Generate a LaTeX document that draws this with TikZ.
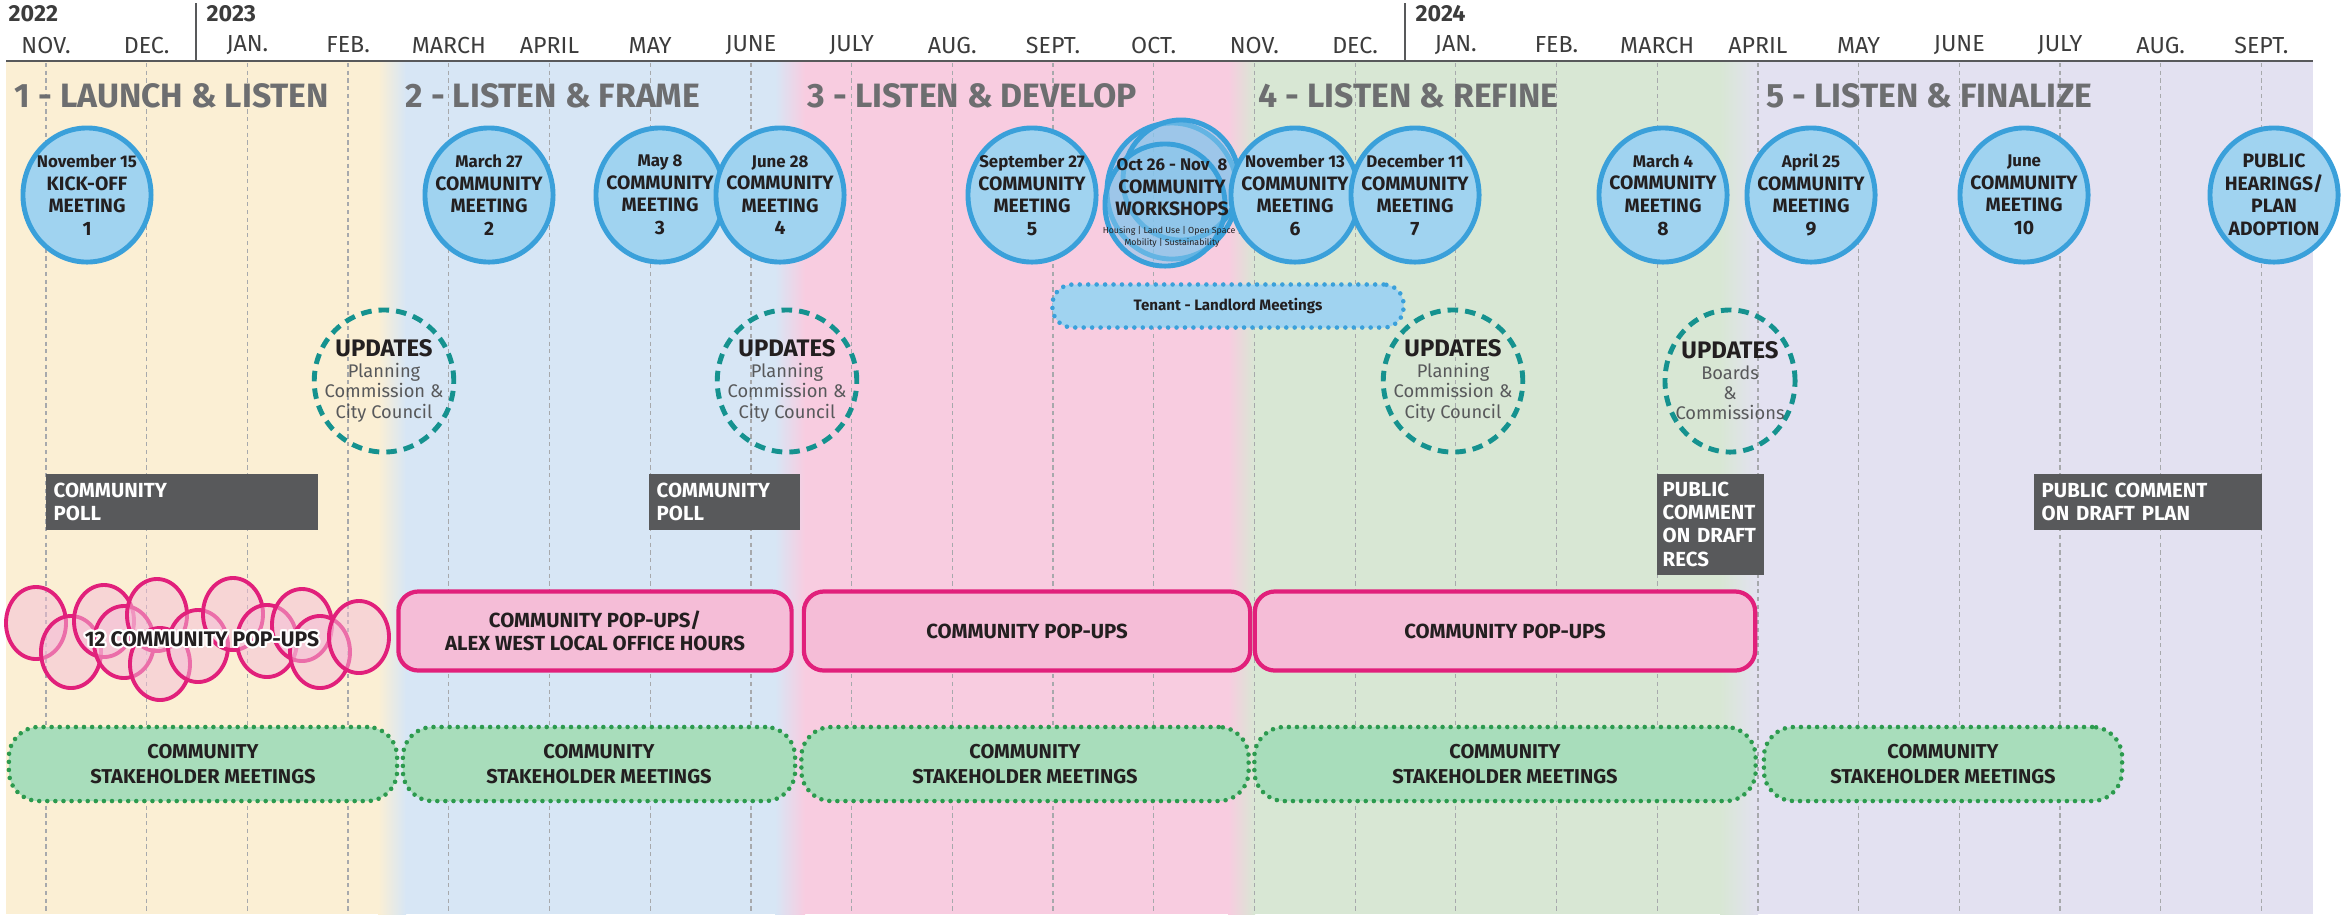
\documentclass[tikz,border=0pt]{standalone}
\usepackage{fontspec}
\setmainfont{Fira Sans}
\usepackage{contour}
\usetikzlibrary{shapes.geometric}

\contourlength{0.6pt}
\newcommand{\mdate}[1]{{\fontsize{4.8}{6.2}\selectfont #1}}
\newcommand{\mtiny}[1]{{\fontsize{2.5}{3}\selectfont\mdseries #1}}
\newcommand{\uphead}{{\fontsize{6.8}{7}\selectfont\bfseries\color{inkdark}UPDATES}}

\definecolor{inkdark}{HTML}{231F20}
\definecolor{inkmid}{HTML}{3C3C3C}
\definecolor{titlegray}{HTML}{6D6E70}
\definecolor{headline}{HTML}{58595B}
\definecolor{gridgray}{HTML}{A7A9AC}
\definecolor{bandyellow}{HTML}{FBEFD4}
\definecolor{bandblue}{HTML}{D7E6F5}
\definecolor{bandpink}{HTML}{F8CCE0}
\definecolor{bandgreen}{HTML}{D8E7D4}
\definecolor{bandlav}{HTML}{E3E1F1}
\definecolor{meetfill}{HTML}{A0D3F0}
\definecolor{meetline}{HTML}{3AA0DA}
\definecolor{wsfill}{HTML}{86C6EC}
\definecolor{upline}{HTML}{15928F}
\definecolor{upgray}{HTML}{58595B}
\definecolor{pollgray}{HTML}{58595B}
\definecolor{popline}{HTML}{E1207B}
\definecolor{popfill}{HTML}{F5BDD7}
\definecolor{stakefill}{HTML}{A8DDBB}
\definecolor{stakeline}{HTML}{2C9A4E}

\begin{document}
\begin{tikzpicture}[
    x=0.01cm, y=-0.01cm,
    every node/.style = {inner sep=0pt, text=inkdark},
    month/.style      = {font=\fontsize{6.6}{7}\selectfont, text=inkmid},
    year/.style       = {anchor=west, font=\fontsize{6.6}{7}\selectfont\bfseries, text=inkmid},
    phase/.style      = {anchor=west, font=\fontsize{9.6}{10}\selectfont\bfseries, text=titlegray},
    meet/.style       = {ellipse, draw=meetline, fill=meetfill, line width=1.4pt,
                         inner xsep=-0.16cm, inner ysep=0pt,
                         minimum width=1.28cm, minimum height=1.34cm, align=center,
                         font=\fontsize{5.5}{6.4}\selectfont\bfseries},
    wshop/.style      = {ellipse, draw=meetline, fill=wsfill, fill opacity=0.55, line width=1.4pt},
    tenant/.style     = {rectangle, rounded corners=0.2cm, draw=meetline, fill=meetfill,
                         line width=1.3pt, dash pattern=on 0pt off 2.4pt, line cap=round,
                         minimum width=3.51cm, minimum height=0.43cm,
                         font=\fontsize{4.3}{5}\selectfont\bfseries},
    update/.style     = {ellipse, draw=upline, line width=1.4pt, dash pattern=on 3pt off 2pt,
                         inner xsep=-0.1cm, inner ysep=0pt,
                         minimum width=1.30cm, minimum height=1.42cm, align=center,
                         text=upgray, font=\fontsize{5.2}{5.8}\selectfont},
    pollbox/.style    = {rectangle, fill=pollgray, anchor=north west, inner xsep=0.08cm,
                         align=left, text=white, font=\fontsize{5.8}{6.6}\selectfont\bfseries},
    popdot/.style     = {ellipse, draw=popline, fill=popfill, fill opacity=0.5, line width=1.1pt,
                         minimum width=0.6cm, minimum height=0.72cm},
    popbox/.style     = {rectangle, rounded corners=0.2cm, draw=popline, fill=popfill,
                         line width=1.2pt, minimum height=0.79cm, align=center,
                         font=\fontsize{5.8}{6.6}\selectfont\bfseries},
    stakebox/.style   = {rectangle, rounded corners=0.3cm, draw=stakeline, fill=stakefill,
                         line width=1.3pt, dash pattern=on 0pt off 2.3pt, line cap=round,
                         minimum height=0.74cm, align=center,
                         font=\fontsize{5.7}{7}\selectfont\bfseries}
    ]
      \useasboundingbox (0,0) rectangle (2343,914);

      % phase bands ---------------------------------------------
      \fill[bandyellow] (6,62)    rectangle (392,914);
      \fill[bandblue]   (392,62)  rectangle (790,914);
      \fill[bandpink]   (790,62)  rectangle (1241,914);
      \fill[bandgreen]  (1241,62) rectangle (1739,914);
      \fill[bandlav]    (1739,62) rectangle (2313,914);
      \shade[left color=bandyellow, right color=bandblue] (378,62) rectangle (406,914);
      \shade[left color=bandblue, right color=bandpink]   (775,62) rectangle (805,914);
      \shade[left color=bandpink, right color=bandgreen]  (1228,62) rectangle (1255,914);
      \shade[left color=bandgreen, right color=bandlav]   (1720,62) rectangle (1758,914);

      % header ---------------------------------------------------
      \foreach \m [count=\i from 0] in {NOV.,DEC.,JAN.,FEB.,MARCH,APRIL,MAY,JUNE,JULY,AUG.,SEPT.,OCT.,
                                        NOV.,DEC.,JAN.,FEB.,MARCH,APRIL,MAY,JUNE,JULY,AUG.,SEPT.}{
        \node[month] (mon\i) at ({46+100.7*\i},45) {\m};
        \draw[gridgray, line width=0.35pt, dash pattern=on 1.2pt off 1pt]
              ({46+100.7*\i},63) -- ({46+100.7*\i},914);
      }
      \node[year] (y22) at (8,14)    {2022};
      \node[year] (y23) at (206,14)  {2023};
      \node[year] (y24) at (1415,14) {2024};
      \draw[headline, line width=0.7pt] (6,61) -- (2313,61);
      \draw[headline, line width=0.6pt] (196,3) -- (196,61)
                                        (1405,3) -- (1405,61);

      \node[phase] (ph1) at (14,96)   {1 - LAUNCH \& LISTEN};
      \node[phase] (ph2) at (405,96)  {2 - LISTEN \& FRAME};
      \node[phase] (ph3) at (807,96)  {3 - LISTEN \& DEVELOP};
      \node[phase] (ph4) at (1258,96) {4 - LISTEN \& REFINE};
      \node[phase] (ph5) at (1766,96) {5 - LISTEN \& FINALIZE};

      % meetings -------------------------------------------------
      \node[meet] (m1)  at (87,195)   {\mdate{November 15}\\KICK-OFF\\MEETING\\1};
      \node[meet] (m2)  at (489,195)  {\mdate{March 27}\\COMMUNITY\\MEETING\\2};
      \node[meet] (m3)  at (660,195)  {\mdate{May 8}\\COMMUNITY\\MEETING\\3};
      \node[meet] (m4)  at (780,195)  {\mdate{June 28}\\COMMUNITY\\MEETING\\4};
      \node[meet] (m5)  at (1032,195) {\mdate{September 27}\\COMMUNITY\\MEETING\\5};
      \node[wshop, minimum width=1.30cm, minimum height=1.36cm] (ws1) at (1172,191) {};
      \node[wshop, minimum width=1.16cm, minimum height=1.20cm] (ws2) at (1181,180) {};
      \node[wshop, minimum width=1.20cm, minimum height=1.22cm] (ws3) at (1165,205) {};
      \node[align=center, font=\fontsize{5.5}{6.4}\selectfont\bfseries] (ws) at (1172,203)
            {\mdate{Oct 26 - Nov\ \ 8}\\COMMUNITY\\WORKSHOPS\\[-1.4pt]
             \mtiny{Housing | Land Use | Open Space |}\\[-3pt]\mtiny{Mobility | Sustainability}};
      \node[meet] (m6)  at (1295,195) {\mdate{November 13}\\COMMUNITY\\MEETING\\6};
      \node[meet] (m7)  at (1415,195) {\mdate{December 11}\\COMMUNITY\\MEETING\\7};
      \node[meet] (m8)  at (1663,195) {\mdate{March 4}\\COMMUNITY\\MEETING\\8};
      \node[meet] (m9)  at (1811,195) {\mdate{April 25}\\COMMUNITY\\MEETING\\9};
      \node[meet] (m10) at (2024,195) {\mdate{June}\\COMMUNITY\\MEETING\\10};
      \node[meet] (adopt) at (2274,195) {PUBLIC\\HEARINGS/\\PLAN\\ADOPTION};

      \node[tenant] (tenant) at (1228,306) {Tenant - Landlord Meetings};

      % updates --------------------------------------------------
      \node[update] (up1) at (384,381)  {\uphead\\Planning\\Commission \&\\City Council};
      \node[update] (up2) at (787,381)  {\uphead\\Planning\\Commission \&\\City Council};
      \node[update] (up3) at (1453,381) {\uphead\\Planning\\Commission \&\\City Council};
      \node[update] (up4) at (1730,381) {\uphead\\Boards\\\&\\Commissions};

      % polls and comments ---------------------------------------
      \node[pollbox, text width=2.56cm, minimum height=0.56cm] (poll1) at (45,473)   {COMMUNITY\\POLL};
      \node[pollbox, text width=1.35cm, minimum height=0.56cm] (poll2) at (648,473)  {COMMUNITY\\POLL};
      \node[pollbox, text width=0.95cm, minimum height=1.01cm, inner xsep=0.06cm] (recs) at (1656,473)
            {PUBLIC\\COMMENT\\ON DRAFT\\RECS};
      \node[pollbox, text width=2.12cm, minimum height=0.56cm] (plan) at (2033,473)
            {PUBLIC COMMENT\\ON DRAFT PLAN};

      % pop-ups --------------------------------------------------
      \foreach \px/\py [count=\k] in {36/623, 71/652, 104/621, 124/642, 157/615, 160/664,
                                       198/646, 233/614, 267/641, 302/625, 320/652, 359/637}{
        \node[popdot] (pd\k) at (\px,\py) {};
      }
      \node[font=\fontsize{6}{7}\selectfont\bfseries] (pop1) at (202,640)
            {\contour{white}{12 COMMUNITY POP-UPS}};
      \node[popbox, minimum width=3.93cm] (pop2) at (595,631)  {COMMUNITY POP-UPS/\\ALEX WEST LOCAL OFFICE HOURS};
      \node[popbox, minimum width=4.46cm] (pop3) at (1027,631) {COMMUNITY POP-UPS};
      \node[popbox, minimum width=5.00cm] (pop4) at (1505,631) {COMMUNITY POP-UPS};

      % stakeholder meetings -------------------------------------
      \node[stakebox, minimum width=3.88cm] (sh1) at (203,764)  {COMMUNITY\\STAKEHOLDER MEETINGS};
      \node[stakebox, minimum width=3.92cm] (sh2) at (599,764)  {COMMUNITY\\STAKEHOLDER MEETINGS};
      \node[stakebox, minimum width=4.47cm] (sh3) at (1025,764) {COMMUNITY\\STAKEHOLDER MEETINGS};
      \node[stakebox, minimum width=5.01cm] (sh4) at (1505,764) {COMMUNITY\\STAKEHOLDER MEETINGS};
      \node[stakebox, minimum width=3.58cm] (sh5) at (1943,764) {COMMUNITY\\STAKEHOLDER MEETINGS};
    \end{tikzpicture}
\end{document}
